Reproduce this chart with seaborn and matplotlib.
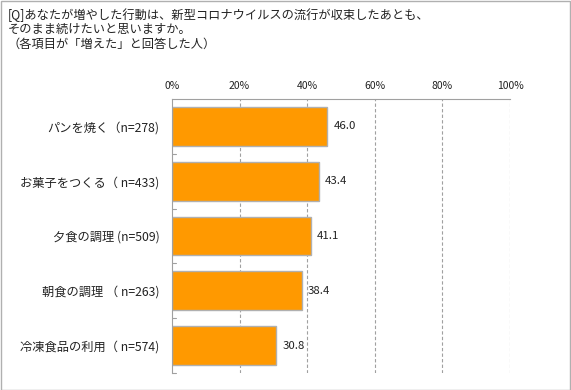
import matplotlib
matplotlib.use("Agg")
import matplotlib.pyplot as plt
import seaborn as sns
import pandas as pd
from matplotlib.patches import Rectangle

categories = ["パンを焼く（n=278)", "お菓子をつくる（ n=433)", "夕食の調理 (n=509)",
              "朝食の調理 （ n=263)", "冷凍食品の利用（ n=574)"]
values = [46.0, 43.4, 41.1, 38.4, 30.8]
xticks = [0, 20, 40, 60, 80, 100]
xtick_labels = ["0%", "20%", "40%", "60%", "80%", "100%"]
title = "[Q]あなたが増やした行動は、新型コロナウイルスの流行が収束したあとも、\nそのまま続けたいと思いますか。\n（各項目が「増えた」と回答した人）"

sns.set_theme(style="white")
plt.rcParams['font.family'] = ['Noto Sans CJK JP', 'DejaVu Sans']

df = pd.DataFrame({"cat": categories, "val": values})

fig = plt.figure(figsize=(5.71, 3.90), dpi=100)
W, H = 571, 390
ax = fig.add_axes([172/W, 1 - 373/H, (510-172)/W, (373-99)/H])

sns.barplot(data=df, y="cat", x="val", orient="h", color="#FF9900",
            edgecolor="#B0B0B0", linewidth=1.0, width=0.71, saturation=1, ax=ax)

ax.set_xlim(0, 100)
ax.set_ylim(4.5, -0.5)
ax.set_xlabel("")
ax.set_ylabel("")
ax.xaxis.tick_top()
ax.set_xticks(xticks)
ax.set_xticklabels(xtick_labels, fontsize=7.5, color="#222222")
ax.tick_params(axis="x", length=0, pad=6)
ax.tick_params(axis="y", length=0, pad=9)
for lbl in ax.get_yticklabels():
    lbl.set_fontsize(8.8)
    lbl.set_color("#222222")

for x in xticks[1:]:
    ax.axvline(x, color="#A0A0A0", linestyle=(0, (3, 2)), linewidth=0.8, zorder=0)
# category separator ticks
for b in [0.5, 1.5, 2.5, 3.5, 4.5]:
    ax.plot([0, 1.2], [b, b], color="#A0A0A0", linewidth=0.8, clip_on=False)

for s in ["right", "bottom"]:
    ax.spines[s].set_visible(False)
for s in ["left", "top"]:
    ax.spines[s].set_color("#A0A0A0")
    ax.spines[s].set_linewidth(0.8)

for i, v in enumerate(values):
    ax.text(v + 1.8, i, f"{v:.1f}", va="center", ha="left", fontsize=8.2, color="#222222")

fig.text(8/W, 1 - 8/H, title, ha="left", va="top", fontsize=8.8, color="#222222",
         linespacing=1.15)

fig.patches.append(Rectangle((0.5/W, 0.5/H), 1 - 1.5/W, 1 - 1.5/H, transform=fig.transFigure,
                             fill=False, edgecolor="#B0B0B0", linewidth=1.0))

fig.savefig("out.png", dpi=100)
